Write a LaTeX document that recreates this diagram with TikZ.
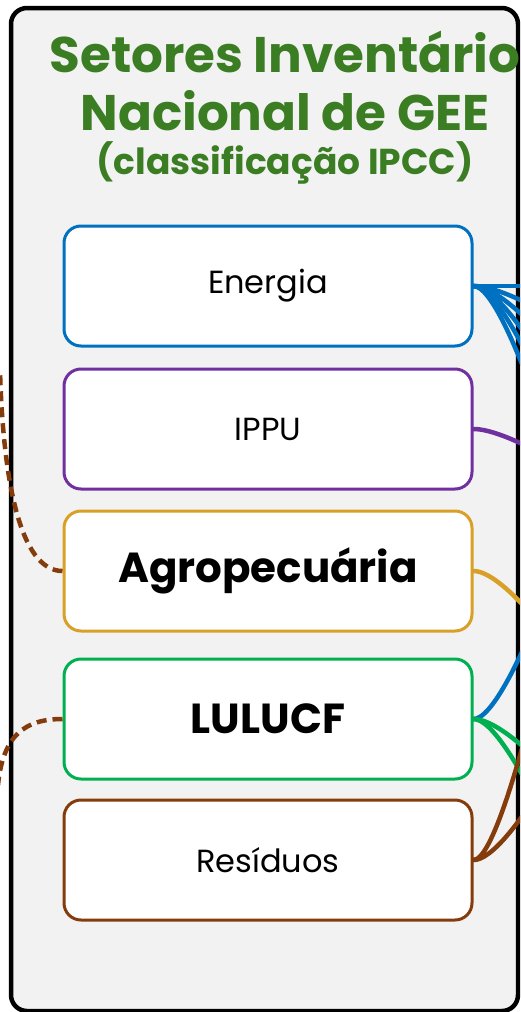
\documentclass[tikz,border=0pt]{standalone}
\usepackage{fontspec}
\setmainfont{Poppins}
\definecolor{titlegreen}{HTML}{3B7D23}
\definecolor{energblue}{HTML}{0070C0}
\definecolor{ippupurple}{HTML}{7030A0}
\definecolor{agrogold}{HTML}{D9A028}
\definecolor{lulugreen}{HTML}{00B050}
\definecolor{resbrown}{HTML}{843C0C}
\definecolor{panelgrey}{HTML}{F2F2F2}
\begin{document}
\begin{tikzpicture}[x=1pt,y=-1pt, line join=round, line cap=round,
	sector/.style={draw=#1, fill=white, line width=3pt, rounded corners=17pt, minimum width=408pt, minimum height=120pt, inner sep=0pt},
	plain/.style={font=\fontsize{32}{32}\selectfont},
	heavy/.style={font=\fontsize{42}{42}\selectfont\bfseries},
	link/.style={draw=#1, line width=4.5pt},
	dashlink/.style={draw=resbrown, line width=4.5pt, dash pattern=on 10pt off 6pt, line cap=butt}]
	\useasboundingbox (0,0) rectangle (520,1012);
	\clip (0,0) rectangle (520,1012);
	\draw[fill=panelgrey, line width=4.5pt, rounded corners=16pt] (11,8) rectangle (518,1011);
	% title
	\node[text=titlegreen, font=\fontsize{50}{50}\selectfont\bfseries, anchor=base] (t1) at (285,72) {Setores Inventário};
	\node[text=titlegreen, font=\fontsize{50}{50}\selectfont\bfseries, anchor=base] (t2) at (285,130) {Nacional de GEE};
	\node[text=titlegreen, font=\fontsize{36}{36}\selectfont\bfseries, anchor=base, inner ysep=1pt] (t3) at (285,174) {(classificação IPCC)};
	% sectors
	\node[sector=energblue, plain] (energia) at (268,286) {Energia};
	\node[sector=ippupurple, plain] (ippu) at (268,429) {IPPU};
	\node[sector=agrogold, heavy] (agro) at (268,571) {Agropecuária};
	\node[sector=lulugreen, heavy] (lulucf) at (268,719) {LULUCF};
	\node[sector=resbrown, plain] (residuos) at (268,860) {Resíduos};
	% links leaving the panel
	\coordinate (eout) at (540,286);
	\draw[link=energblue] (energia.east) -- (eout);
	\foreach \d in {35,68,103,139,185}
	\draw[link=energblue] (energia.east) .. controls (490.7,286) and (520,286+\d/3) .. (560,286+\d);
	\draw[link=ippupurple] (ippu.east) .. controls (490.7,429) and (520,441) .. (560,464);
	\draw[link=agrogold] (agro.east) .. controls (490.7,571) and (520,597) .. (560,649);
	\draw[link=energblue] (lulucf.east) .. controls (490.7,719) and (520,666) .. (560,560);
	\foreach \d in {63,131}
	\draw[link=lulugreen] (lulucf.east) .. controls (490.7,719) and (520,719+\d/3) .. (560,719+\d);
	\foreach \d in {-264,-103}
	\draw[link=resbrown] (residuos.east) .. controls (490.7,860) and (520,860+\d/3) .. (560,860+\d);
	\draw[dashlink] (agro.west) .. controls (20,571) and (3,480) .. (0,370);
	\draw[dashlink] (lulucf.west) .. controls (25,719) and (3,735) .. (-2,785);
\end{tikzpicture}
\end{document}
